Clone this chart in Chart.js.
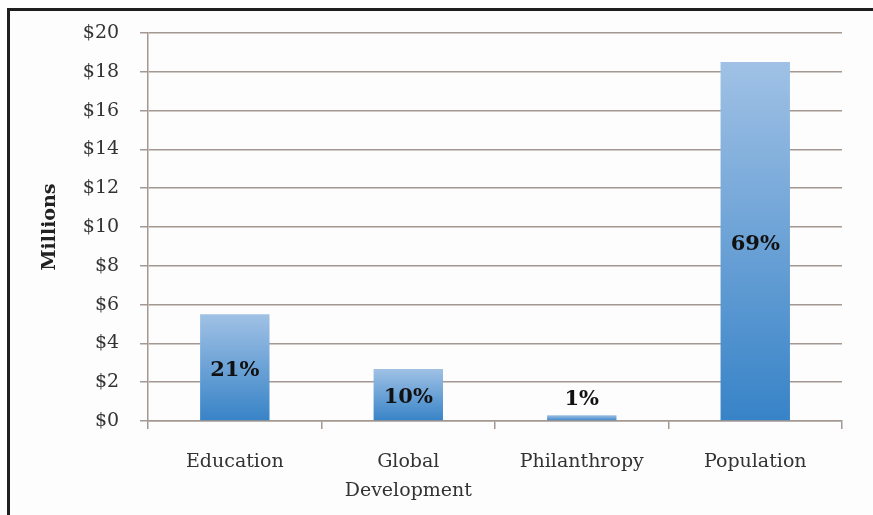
<!DOCTYPE html>
<html>
<head>
<meta charset="utf-8">
<script src="https://cdn.jsdelivr.net/npm/chart.js@4/dist/chart.umd.min.js"></script>
<style>
    html, body { margin: 0; padding: 0; background: #fdfdfd; }
    #wrap { position: relative; width: 873px; height: 515px; overflow: hidden; }
    #frame {
        position: absolute; left: 7px; top: 8px; right: -10px; bottom: -10px;
        border-left: 3px solid #1e1e1e; border-top: 3px solid #1e1e1e;
        pointer-events: none;
    }
    canvas { position: absolute; left: 0; top: 0; }
</style>
</head>
<body>
<div id="wrap">
    <canvas id="fundChart" width="873" height="515"></canvas>
    <div id="frame"></div>
</div>
<script>
// Data
// ----------------------------------------------
const categories = [ ["Education"], ["Global", "Development"], ["Philanthropy"], ["Population"] ];
const amounts    = [ 5.5, 2.68, 0.3, 18.5 ];           // millions of dollars
const shares     = [ "21%", "10%", "1%", "69%" ];
const yTicks     = [ 0, 2, 4, 6, 8, 10, 12, 14, 16, 18, 20 ];

const gridColor  = "#a39892";
const textColor  = "#333333";


// Per-bar vertical gradient, light at top, darker at base
function barGradient( ctx ) {
    const chart = ctx.chart;
    const { chartArea } = chart;
    if ( !chartArea || ctx.dataIndex === undefined ) return "#6fa0d6";
    const y = chart.scales.y;
    const top    = y.getPixelForValue( amounts[ ctx.dataIndex ] );
    const bottom = y.getPixelForValue( 0 );
    const g = chart.ctx.createLinearGradient( 0, top, 0, bottom );
    g.addColorStop( 0, "#a0c1e5" );
    g.addColorStop( 1, "#3783c7" );
    return g;
}

// Percent labels inside (or above) each bar
const shareLabels = {
    id: "shareLabels",
    afterDatasetsDraw( chart ) {
        const c = chart.ctx;
        const meta = chart.getDatasetMeta( 0 );
        c.save();
        c.font = "bold 21px 'DejaVu Serif'";
        c.fillStyle = "#111";
        c.textAlign = "center";
        c.textBaseline = "middle";
        meta.data.forEach( ( bar, i ) => {
            const h = bar.base - bar.y;
            const y = h < 30 ? bar.y - 16 : ( bar.y + bar.base ) / 2 + 3;
            c.fillText( shares[ i ], bar.x, y );
        });
        c.restore();
    }
};

new Chart( document.getElementById( "fundChart" ), {
    type: "bar",
    data: {
        labels: categories,
        datasets: [{
            data: amounts,
            backgroundColor: barGradient,
            borderWidth: 0,
            barPercentage: 0.4,
            categoryPercentage: 1
        }]
    },
    options: {
        responsive: false,
        animation: false,
        events: [],
        layout: { padding: { left: 39, top: 33, right: 31, bottom: 0 } },
        plugins: {
            legend: { display: false },
            tooltip: { enabled: false }
        },
        scales: {
            y: {
                min: 0,
                max: 20,
                afterBuildTicks: axis => { axis.ticks = yTicks.map( v => ({ value: v }) ); },
                border: { color: gridColor, width: 1.5 },
                grid: { color: gridColor, lineWidth: 1.5, tickLength: 8 },
                ticks: {
                    padding: 21,
                    color: textColor,
                    font: { family: "'DejaVu Serif'", size: 19 },
                    callback: v => "$" + v
                },
                title: {
                    display: true,
                    text: "Millions",
                    color: "#222",
                    font: { family: "'DejaVu Serif'", size: 19, weight: "bold" },
                    padding: { top: 0, bottom: 0 }
                }
            },
            x: {
                afterFit: axis => { axis.height = 94; },
                border: { color: gridColor, width: 1.5 },
                grid: { color: gridColor, lineWidth: 1.5, drawOnChartArea: false, tickLength: 8 },
                ticks: {
                    padding: 19,
                    color: textColor,
                    maxRotation: 0,
                    font: { family: "'DejaVu Serif'", size: 19, lineHeight: 1.5 }
                }
            }
        }
    },
    plugins: [ shareLabels ]
});
</script>
</body>
</html>
